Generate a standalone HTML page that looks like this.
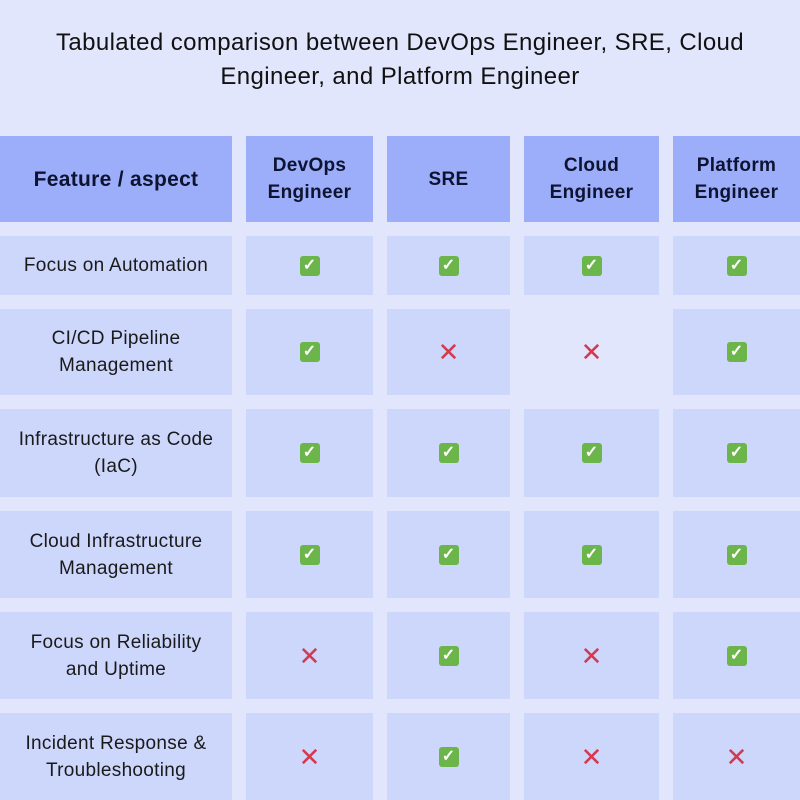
<!DOCTYPE html>
<html><head><meta charset="utf-8"><style>
body{margin:0;width:800px;height:800px;background:#e1e6fc;position:relative;overflow:hidden;font-family:"Liberation Sans",sans-serif;color:#111}
.t{position:absolute;left:0;width:800px;text-align:center;font-size:24px;letter-spacing:0.4px;color:#111}
.c{position:absolute;display:flex;align-items:center;justify-content:center;text-align:center;background:#cdd6fb;font-size:19px;line-height:27px;color:#1a1a1a;letter-spacing:0.3px}
.h{background:#9caefa;font-weight:bold;font-size:19px;color:#0d1330;letter-spacing:0.3px}
.ok{width:20px;height:20px;background:#6cb54a;border-radius:3px;color:#fff;font-size:16px;line-height:20px;font-weight:bold;letter-spacing:0}
.no{color:#d33a50;font-size:26px;line-height:20px;letter-spacing:0}
</style></head><body>
<div class="t" style="top:29px">Tabulated comparison between DevOps Engineer, SRE, Cloud</div>
<div class="t" style="top:63px">Engineer, and Platform Engineer</div>

<div class="c h" style="left:0;top:136px;width:232px;height:86px;font-size:21px">Feature / aspect</div>
<div class="c h" style="left:246px;top:136px;width:127px;height:86px">DevOps<br>Engineer</div>
<div class="c h" style="left:387px;top:136px;width:123px;height:86px">SRE</div>
<div class="c h" style="left:524px;top:136px;width:135px;height:86px">Cloud<br>Engineer</div>
<div class="c h" style="left:673px;top:136px;width:127px;height:86px">Platform<br>Engineer</div>

<div class="c" style="left:0;top:236px;width:232px;height:59px">Focus on Automation</div>
<div class="c" style="left:246px;top:236px;width:127px;height:59px"><div class="ok">✓</div></div>
<div class="c" style="left:387px;top:236px;width:123px;height:59px"><div class="ok">✓</div></div>
<div class="c" style="left:524px;top:236px;width:135px;height:59px"><div class="ok">✓</div></div>
<div class="c" style="left:673px;top:236px;width:127px;height:59px"><div class="ok">✓</div></div>

<div class="c" style="left:0;top:309px;width:232px;height:86px">CI/CD Pipeline<br>Management</div>
<div class="c" style="left:246px;top:309px;width:127px;height:86px"><div class="ok">✓</div></div>
<div class="c" style="left:387px;top:309px;width:123px;height:86px"><div class="no">✕</div></div>
<div class="c" style="left:524px;top:309px;width:135px;height:86px;background:transparent"><div class="no">✕</div></div>
<div class="c" style="left:673px;top:309px;width:127px;height:86px"><div class="ok">✓</div></div>

<div class="c" style="left:0;top:409px;width:232px;height:88px">Infrastructure as Code<br>(IaC)</div>
<div class="c" style="left:246px;top:409px;width:127px;height:88px"><div class="ok">✓</div></div>
<div class="c" style="left:387px;top:409px;width:123px;height:88px"><div class="ok">✓</div></div>
<div class="c" style="left:524px;top:409px;width:135px;height:88px"><div class="ok">✓</div></div>
<div class="c" style="left:673px;top:409px;width:127px;height:88px"><div class="ok">✓</div></div>

<div class="c" style="left:0;top:511px;width:232px;height:87px">Cloud Infrastructure<br>Management</div>
<div class="c" style="left:246px;top:511px;width:127px;height:87px"><div class="ok">✓</div></div>
<div class="c" style="left:387px;top:511px;width:123px;height:87px"><div class="ok">✓</div></div>
<div class="c" style="left:524px;top:511px;width:135px;height:87px"><div class="ok">✓</div></div>
<div class="c" style="left:673px;top:511px;width:127px;height:87px"><div class="ok">✓</div></div>

<div class="c" style="left:0;top:612px;width:232px;height:87px">Focus on Reliability<br>and Uptime</div>
<div class="c" style="left:246px;top:612px;width:127px;height:87px"><div class="no">✕</div></div>
<div class="c" style="left:387px;top:612px;width:123px;height:87px"><div class="ok">✓</div></div>
<div class="c" style="left:524px;top:612px;width:135px;height:87px"><div class="no">✕</div></div>
<div class="c" style="left:673px;top:612px;width:127px;height:87px"><div class="ok">✓</div></div>

<div class="c" style="left:0;top:713px;width:232px;height:87px">Incident Response &amp;<br>Troubleshooting</div>
<div class="c" style="left:246px;top:713px;width:127px;height:87px"><div class="no">✕</div></div>
<div class="c" style="left:387px;top:713px;width:123px;height:87px"><div class="ok">✓</div></div>
<div class="c" style="left:524px;top:713px;width:135px;height:87px"><div class="no">✕</div></div>
<div class="c" style="left:673px;top:713px;width:127px;height:87px"><div class="no">✕</div></div>
</body></html>
